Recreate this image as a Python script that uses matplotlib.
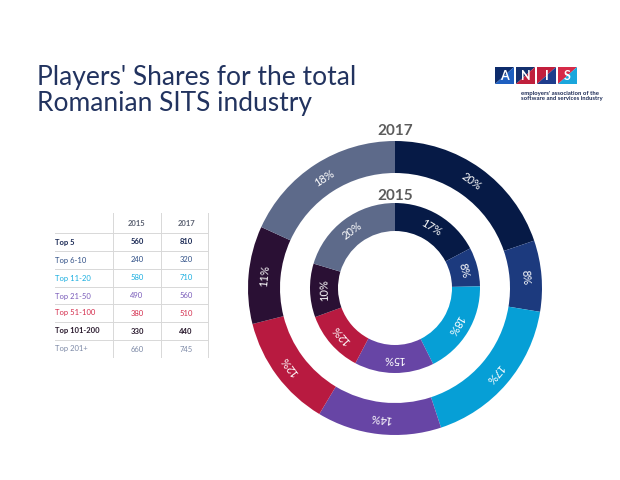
import numpy as np
import matplotlib
matplotlib.use("Agg")
import matplotlib.pyplot as plt
import matplotlib.patches as patches

W, H = 620, 480

groups = ["Top 5", "Top 6-10", "Top 11-20", "Top 21-50", "Top 51-100", "Top 101-200", "Top 201+"]
vals_2015 = [560, 240, 580, 490, 380, 330, 660]
vals_2017 = [810, 320, 710, 560, 510, 440, 745]
labels_2015 = ["17%", "8%", "18%", "15%", "12%", "10%", "20%"]
labels_2017 = ["20%", "8%", "17%", "14%", "12%", "11%", "18%"]

ring_colors = ["#061a46", "#1c3a7e", "#069fd6", "#6745a5", "#b81a40", "#2a1034", "#5d6a8a"]
text_colors = ["#1b2a55", "#2f4f86", "#19aee0", "#7a5cba", "#d42c4c", "#2a1a2e", "#7c89a6"]

FONT = ["Lato", "DejaVu Sans"]
plt.rcParams["font.family"] = FONT

fig = plt.figure(figsize=(6.2, 4.8), dpi=100)
ax = fig.add_axes([0, 0, 1, 1])


def Y(y):
    # picture rows -> axis units
    return H - y


def ring(vals, labels, r, width, cx, cy):
    wedges, _ = ax.pie(vals, radius=r, center=(cx, cy), startangle=90,
                       counterclock=False, colors=ring_colors, frame=True,
                       wedgeprops=dict(width=width, edgecolor="none"))
    rm = r - width / 2.0
    for w, lab in zip(wedges, labels):
        th = (w.theta1 + w.theta2) / 2.0
        t = np.deg2rad(th)
        ax.text(cx + rm * np.cos(t), cy + rm * np.sin(t), lab, color="white",
                fontsize=8, rotation=th - 90, rotation_mode="anchor",
                ha="center", va="center")


cx, cy = 395, Y(288)
ring(vals_2017, labels_2017, 147, 32, cx, cy)
ring(vals_2015, labels_2015, 85, 28, cx, cy)
ax.text(cx, Y(131), "2017", fontsize=11, fontweight="bold", color="#5c5c5c", ha="center", va="center")
ax.text(cx, Y(196), "2015", fontsize=11, fontweight="bold", color="#5c5c5c", ha="center", va="center")

# title
ax.text(37, Y(85), "Players' Shares for the total", fontsize=19,
        color="#22335f", ha="left", va="baseline")
ax.text(37, Y(111), "Romanian SITS industry", fontsize=19,
        color="#22335f", ha="left", va="baseline")

# table
col_x = [137, 186]
row_y = [242, 260, 278, 296, 313, 331, 349]
ax.text(col_x[0], Y(223), "2015", fontsize=5.5, fontweight="bold", color="#5a6070", ha="center", va="center")
ax.text(col_x[1], Y(223), "2017", fontsize=5.5, fontweight="bold", color="#5a6070", ha="center", va="center")
for x in [113, 161, 208]:
    ax.plot([x, x], [Y(213), Y(357)], color="#d8d8d8", lw=0.7)
for i, g in enumerate(groups):
    yy = row_y[i]
    ax.plot([55, 208], [Y(yy - 9), Y(yy - 9)], color="#d8d8d8", lw=0.7)
    bold = "bold" if i in (0, 5) else "normal"
    ax.text(55, Y(yy), g, fontsize=5.5, color=text_colors[i], fontweight=bold, ha="left", va="center")
    ax.text(col_x[0], Y(yy), str(vals_2015[i]), fontsize=5.5, color=text_colors[i], fontweight=bold,
            ha="center", va="center")
    ax.text(col_x[1], Y(yy), str(vals_2017[i]), fontsize=5.5, color=text_colors[i], fontweight=bold,
            ha="center", va="center")

# logo
box_cols = [("#0d2b6b", "#1e5fc0"), ("#14306e", "#c0203c"), ("#c21e3c", "#1e3c8c"), ("#d62a48", "#1aa6dc")]
for i, (c1, c2) in enumerate(box_cols):
    x0 = 495 + i * 21
    ax.add_patch(patches.Polygon([[x0, Y(67)], [x0 + 19, Y(67)], [x0, Y(84)]], closed=True, fc=c1, ec="none"))
    ax.add_patch(patches.Polygon([[x0 + 19, Y(67)], [x0 + 19, Y(84)], [x0, Y(84)]], closed=True, fc=c2, ec="none"))
    ax.text(x0 + 9.5, Y(75.5), "ANIS"[i], fontsize=9, fontweight="bold", color="white", ha="center", va="center")
ax.text(521, Y(91), "employers' association of the\nsoftware and services industry", fontsize=4.3,
        fontweight="bold", color="#1b2a55", ha="left", va="top", linespacing=1.1)

ax.set_xlim(0, W)
ax.set_ylim(0, H)
ax.set_aspect("equal")
ax.axis("off")

fig.savefig("out.png", dpi=100, facecolor="white")
